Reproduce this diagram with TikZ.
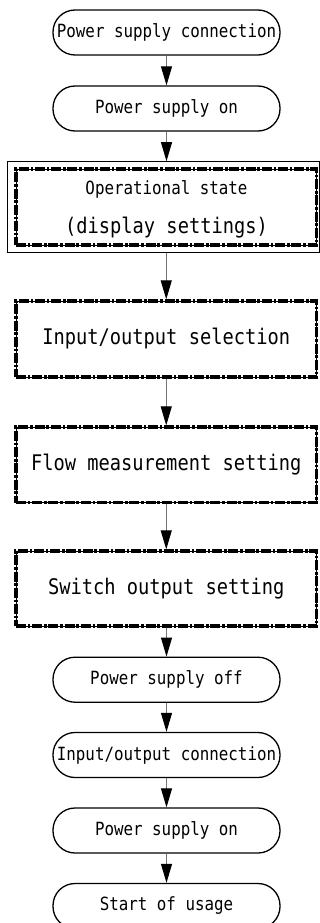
\documentclass[tikz,border=0pt]{standalone}
\usepackage{fontspec}
\usetikzlibrary{arrows.meta}
\newfontfamily\monofont[FakeStretch=0.87]{DejaVu Sans Mono}
\begin{document}
\begin{tikzpicture}[x=1pt,y=-1pt,
  term/.style={draw=black, line width=1.3pt, rounded corners=22pt, minimum width=227pt, minimum height=45pt, inner sep=0pt, font=\monofont\fontsize{18.2}{20}\selectfont},
  dashbox/.style={draw=black, line width=3.3pt, dash pattern=on 10pt off 1.8pt on 2.6pt off 1.8pt, minimum width=300.5pt, inner sep=0pt, font=\monofont\fontsize{21.5}{24}\selectfont},
  thinframe/.style={draw=black, line width=0.8pt, minimum width=300.5pt, inner sep=0pt},
  outerframe/.style={draw=black, line width=1pt, minimum width=312pt, minimum height=91pt, inner sep=0pt},
  flow/.style={draw=black!55, line width=1pt, -{Triangle[length=19pt,width=11pt,black]}},
  small/.style={font=\monofont\fontsize{18.2}{20}\selectfont},
  big/.style={font=\monofont\fontsize{21.5}{24}\selectfont}
]
\useasboundingbox (0,0) rectangle (320,923);
\fill[white] (0,0) rectangle (320,923);

\node[term] (n1) at (166.5,32.5) {Power supply connection};
\node[term] (n2) at (166.5,108.5) {Power supply on};

\node[outerframe] (op) at (163,207.2) {};
\node[thinframe, minimum height=76pt] (opt) at (166.25,207) {};
\node[dashbox, minimum height=76pt] (opin) at (166.25,207) {};
\node[small] (op1) at (166.5,189) {Operational state};
\node[big] (op2) at (166.5,228) {(display settings)};

\node[thinframe, minimum height=76pt] (selt) at (166.25,339) {};
\node[dashbox, minimum height=76pt] (sel) at (166.25,339) {Input/output selection};
\node[thinframe, minimum height=75.5pt] (flwt) at (166.25,464.75) {};
\node[dashbox, minimum height=75.5pt] (flw) at (166.25,464.75) {Flow measurement setting};
\node[thinframe, minimum height=75pt] (swt) at (166.25,588.5) {};
\node[dashbox, minimum height=75pt] (sw) at (166.25,588.5) {Switch output setting};

\node[term] (off) at (166.5,679.7) {Power supply off};
\node[term] (ioc) at (166.5,755) {Input/output connection};
\node[term] (on2) at (166.5,830.5) {Power supply on};
\node[term] (start) at (166.5,906) {Start of usage};

\draw[flow] (n1) -- (n2);
\draw[flow] (n2.south) -- (n2.south |- op.north);
\draw[flow] (op.south -| sel.north) -- (sel.north);
\draw[flow] (sel) -- (flw);
\draw[flow] (flw) -- (sw);
\draw[flow] (sw.south -| off.north) -- (off.north);
\draw[flow] (off) -- (ioc);
\draw[flow] (ioc) -- (on2);
\draw[flow] (on2) -- (start);
\end{tikzpicture}
\end{document}
